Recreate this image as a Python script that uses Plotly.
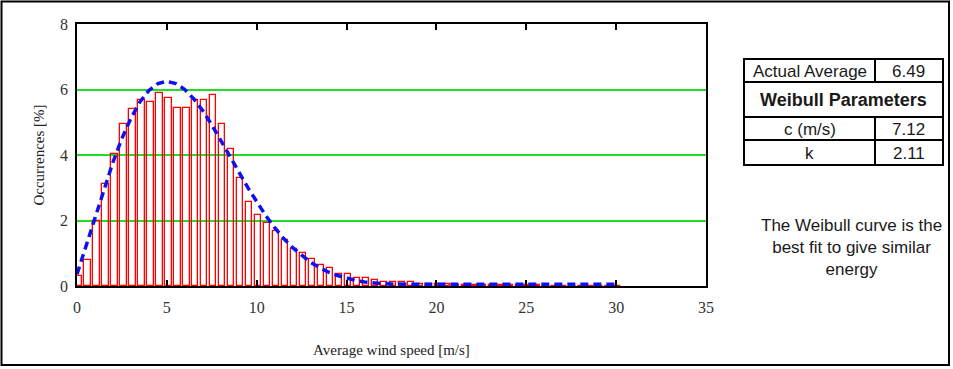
import plotly.graph_objects as go

# ---------------- data ----------------
wind_speed = [0.0, 0.5, 1.0, 1.5, 2.0, 2.5, 3.0, 3.5, 4.0, 4.5, 5.0, 5.5, 6.0, 6.5, 7.0, 7.5,
              8.0, 8.5, 9.0, 9.5, 10.0, 10.5, 11.0, 11.5, 12.0, 12.5, 13.0, 13.5, 14.0, 14.5,
              15.0, 15.5, 16.0, 16.5, 17.0, 17.5, 18.0, 18.5, 19.0, 19.5, 20.0, 20.5, 21.0,
              21.5, 22.0, 22.5, 23.0, 23.5, 24.0, 24.5, 25.0, 25.5, 26.0, 26.5, 27.0, 27.5,
              28.0, 28.5, 29.0, 29.5, 30.0]

occurrences = [0.30, 0.80, 1.97, 3.12, 4.04, 4.94, 5.41, 5.67, 5.63, 5.88, 5.73, 5.45, 5.45,
               5.69, 5.67, 5.84, 4.94, 4.19, 3.31, 2.57, 2.18, 1.93, 1.69, 1.39, 1.12, 1.00,
               0.82, 0.65, 0.56, 0.38, 0.36, 0.23, 0.23, 0.18, 0.13, 0.12, 0.12, 0.11, 0.07,
               0.06, 0.05, 0.05, 0.04, 0.04, 0.03, 0.03, 0.03, 0.02, 0.02, 0.02, 0.02, 0.02,
               0.01, 0.01, 0.01, 0.01, 0.01, 0.01, 0.01, 0.01, 0.01]

weibull_curve = [0.36, 1.21, 2.09, 2.96, 3.78, 4.51, 5.12, 5.62, 5.97, 6.18, 6.25, 6.18, 6.00,
                 5.71, 5.35, 4.92, 4.46, 3.97, 3.49, 3.01, 2.57, 2.15, 1.78, 1.45, 1.17, 0.93,
                 0.72, 0.56, 0.42, 0.32, 0.24, 0.17, 0.12, 0.09, 0.07, 0.06, 0.05, 0.05, 0.05,
                 0.05, 0.05, 0.05, 0.05, 0.05, 0.05, 0.05, 0.05, 0.05, 0.05, 0.05, 0.05, 0.05,
                 0.05, 0.05, 0.05, 0.05, 0.05, 0.05, 0.05, 0.05, 0.05]

x_ticks = [0, 5, 10, 15, 20, 25, 30, 35]
y_ticks = [0, 2, 4, 6, 8]

actual_average = "6.49"
weibull_c = "7.12"
weibull_k = "2.11"
note_lines = ["The Weibull curve is the", "best fit to give similar", "energy"]

# ---------------- layout helpers (pixel -> paper) ----------------
W, H = 953, 369
L, R, T, B = 77, 247, 24, 83
PW, PH = W - L - R, H - T - B


def px(x):
    return (x - L) / PW


def py(y):
    return (H - B - y) / PH


serif = "Liberation Serif, Times New Roman, serif"
sans = "Liberation Sans, Arial, sans-serif"

fig = go.Figure()
fig.add_trace(go.Bar(
    x=wind_speed, y=occurrences, width=0.36, offset=-0.1,
    marker=dict(color="rgba(0,0,0,0)", line=dict(color="#ff0000", width=1.3)),
    showlegend=False, hoverinfo="x+y"))
fig.add_trace(go.Scatter(
    x=wind_speed, y=weibull_curve, mode="lines",
    line=dict(color="#1010ee", width=3.5, dash="8px,5px"),
    showlegend=False))

shapes = []
# outer frame
shapes.append(dict(type="rect", xref="paper", yref="paper",
                   x0=px(1.5), x1=px(949), y0=py(1.5), y1=py(365),
                   line=dict(color="black", width=2)))
# table
tx0, txm, tx1 = 744, 875, 943
ty = [59, 82, 117, 140, 165]
shapes.append(dict(type="rect", xref="paper", yref="paper",
                   x0=px(tx0), x1=px(tx1), y0=py(ty[0]), y1=py(ty[-1]),
                   line=dict(color="black", width=2)))
for yy in ty[1:-1]:
    shapes.append(dict(type="line", xref="paper", yref="paper",
                       x0=px(tx0), x1=px(tx1), y0=py(yy), y1=py(yy),
                       line=dict(color="black", width=2)))
for (a, b) in [(ty[0], ty[1]), (ty[2], ty[4])]:
    shapes.append(dict(type="line", xref="paper", yref="paper",
                       x0=px(txm), x1=px(txm), y0=py(a), y1=py(b),
                       line=dict(color="black", width=2)))

annotations = []


def cell(text, xc, yc, bold=False, size=17):
    annotations.append(dict(
        text=f"<b>{text}</b>" if bold else text, xref="paper", yref="paper",
        x=px(xc), y=py(yc), xanchor="center", yanchor="middle", showarrow=False,
        font=dict(family=sans, size=size, color="#1a1a1a")))


c1 = (tx0 + txm) / 2
c2 = (txm + tx1) / 2
cell("Actual Average", c1, 71)
cell(actual_average, c2, 71)
cell("Weibull Parameters", (tx0 + tx1) / 2, 100, bold=True, size=18)
cell("c (m/s)", c1, 129)
cell(weibull_c, c2, 129)
cell("k", c1, 153)
cell(weibull_k, c2, 153)

annotations.append(dict(
    text="<br>".join(note_lines), xref="paper", yref="paper",
    x=px(851), y=py(247), xanchor="center", yanchor="middle", align="center",
    showarrow=False, font=dict(family=sans, size=17, color="#1a1a1a")))

fig.update_layout(
    width=W, height=H, autosize=False,
    margin=dict(l=L, r=R, t=T, b=B, pad=0),
    paper_bgcolor="white", plot_bgcolor="white",
    shapes=shapes, annotations=annotations, bargap=0,
    xaxis=dict(range=[0, 35], tickvals=x_ticks, ticks="inside", ticklen=6,
               tickwidth=1.5, tickcolor="black", showline=True, linecolor="black",
               linewidth=1.5, mirror="ticks", showgrid=False, zeroline=False,
               ticklabelstandoff=6,
               tickfont=dict(family=serif, size=16, color="#333"),
               title=dict(text="Average wind speed [m/s]", standoff=30,
                          font=dict(family=serif, size=15, color="#222"))),
    yaxis=dict(range=[0, 8], tickvals=y_ticks, ticks="", showline=True,
               linecolor="black", linewidth=1.5, mirror=True, showgrid=True,
               gridcolor="#22dd22", gridwidth=1.5, zeroline=False,
               ticklabelstandoff=4,
               tickfont=dict(family=serif, size=16, color="#333"),
               title=dict(text="Occurrences [%]", standoff=12,
                          font=dict(family=serif, size=15, color="#222"))),
)

fig.write_html("out.html", config={"displayModeBar": False},
               post_script="document.body.style.margin='0';document.body.style.overflow='hidden';")
